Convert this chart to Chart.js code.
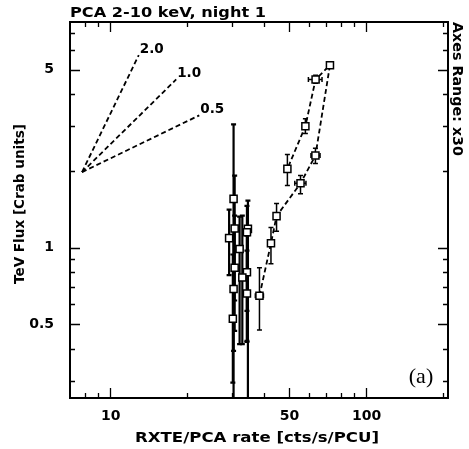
<!DOCTYPE html>
<html>
<head>
<meta charset="utf-8">
<script src="https://cdn.jsdelivr.net/npm/chart.js@4/dist/chart.umd.min.js"></script>
<style>
  html, body { margin: 0; padding: 0; background: #fff; }
</style>
</head>
<body>
<canvas id="pcaChart" width="469" height="449"></canvas>
<script>
// flare track (connected by the dashed line, in time order)
const trackRate   = [38.5, 42.7, 44.9, 55.7, 63.7, 72.6, 63.8, 58.2, 49.5];
const trackFlux   = [0.647, 1.04, 1.33, 1.79, 2.30, 5.21, 4.58, 3.00, 2.04];
const trackFluxLo = [0.475, 0.865, 1.16, 1.63, 2.14, 5.12, 4.42, 2.81, 1.755];
const trackFluxHi = [0.834, 1.20, 1.49, 1.92, 2.46, 5.30, 4.76, 3.21, 2.325];
const trackRateLo = [37.1, 42.3, 44.5, 52.9, 61.2, 71.0, 59.8, 57.7, 49.1];
const trackRateHi = [39.9, 43.1, 45.3, 58.5, 66.4, 74.2, 67.6, 58.7, 49.9];

// quiet points around 30 cts/s
const quietRate   = [30.5, 30.8, 29.3, 34.7, 34.4, 32.2, 30.8, 34.4, 33.0, 30.5, 34.4, 30.3];
const quietFlux   = [1.555, 1.19, 1.09, 1.185, 1.15, 0.988, 0.834, 0.80, 0.764, 0.688, 0.661, 0.526];
const quietFluxLo = [0.22, 0.62, 0.78, 0.22, 0.43, 0.418, 0.471, 0.565, 0.418, 0.393, 0.426, 0.295];
const quietFluxHi = [3.05, 1.92, 1.41, 1.53, 1.46, 1.325, 1.337, 1.115, 1.337, 1.167, 0.973, 0.94];

// reference slopes
const slopeNames    = ['2.0', '1.0', '0.5'];
const slopeFromRate = 7.8;
const slopeFromFlux = 1.98;
const slopeToRate   = [13.0, 18.2, 22.4];
const slopeToFlux   = [5.71, 4.58, 3.31];

// axes
const rateMin = 7, rateMax = 210;
const fluxMin = 0.2567, fluxMax = 7.7;
const rateMajor = [10, 50, 100];
const rateMinor = [8, 9, 20, 30, 40, 60, 70, 80, 90, 200];
const fluxMajor = [0.5, 1, 5];
const fluxMinor = [0.3, 0.4, 0.6, 0.7, 0.8, 0.9, 2, 3, 4, 6, 7];

const bold = 'bold 14px "DejaVu Sans"';

function putText(ctx, text, x, y, width, font, align, baseline, angle) {
    ctx.save();
    ctx.font = font;
    ctx.fillStyle = '#000';
    ctx.translate(x, y);
    if (angle) ctx.rotate(angle);
    var w = ctx.measureText(text).width;
    if (width) ctx.scale(width / w, 1);
    ctx.textAlign = align;
    ctx.textBaseline = baseline;
    ctx.fillText(text, 0, 0);
    ctx.restore();
}

const errorBarPlugin = {
    id: 'errorBars',
    beforeDatasetsDraw(chart) {
        const ctx = chart.ctx, a = chart.chartArea;
        const xs = chart.scales.x, ys = chart.scales.y;
        ctx.save();
        ctx.beginPath();
        ctx.rect(a.left, a.top, a.right - a.left, a.bottom - a.top);
        ctx.clip();
        ctx.strokeStyle = '#000';
        function bar(r, f, fLo, fHi, rLo, rHi, lw) {
            var px = xs.getPixelForValue(r), py = ys.getPixelForValue(f);
            var yLo = ys.getPixelForValue(fLo), yHi = ys.getPixelForValue(fHi);
            ctx.lineWidth = lw;
            ctx.beginPath();
            ctx.moveTo(px, yLo); ctx.lineTo(px, yHi);
            ctx.moveTo(px - 2.5, yLo); ctx.lineTo(px + 2.5, yLo);
            ctx.moveTo(px - 2.5, yHi); ctx.lineTo(px + 2.5, yHi);
            if (rLo !== undefined) {
                var xLo = xs.getPixelForValue(rLo), xHi = xs.getPixelForValue(rHi);
                ctx.moveTo(xLo, py); ctx.lineTo(xHi, py);
                ctx.moveTo(xLo, py - 2.5); ctx.lineTo(xLo, py + 2.5);
                ctx.moveTo(xHi, py - 2.5); ctx.lineTo(xHi, py + 2.5);
            }
            ctx.stroke();
        }
        quietRate.forEach(function (r, i) {
            bar(r, quietFlux[i], quietFluxLo[i], quietFluxHi[i], undefined, undefined, 2.2);
        });
        trackRate.forEach(function (r, i) {
            bar(r, trackFlux[i], trackFluxLo[i], trackFluxHi[i], trackRateLo[i], trackRateHi[i], 1.5);
        });
        ctx.restore();
    }
};

const framePlugin = {
    id: 'frame',
    afterDraw(chart) {
        const ctx = chart.ctx, a = chart.chartArea;
        const xs = chart.scales.x, ys = chart.scales.y;
        ctx.save();
        ctx.strokeStyle = '#000';
        ctx.lineWidth = 1.3;
        ctx.beginPath();
        function xTick(v, len) {
            var px = Math.round(xs.getPixelForValue(v)) + 0.5;
            ctx.moveTo(px, a.bottom); ctx.lineTo(px, a.bottom - len);
            ctx.moveTo(px, a.top); ctx.lineTo(px, a.top + len);
        }
        function yTick(v, len) {
            var py = Math.round(ys.getPixelForValue(v)) + 0.5;
            ctx.moveTo(a.left, py); ctx.lineTo(a.left + len, py);
            ctx.moveTo(a.right, py); ctx.lineTo(a.right - len, py);
        }
        rateMajor.forEach(function (v) { xTick(v, 10); });
        rateMinor.forEach(function (v) { xTick(v, 5); });
        fluxMajor.forEach(function (v) { yTick(v, 10); });
        fluxMinor.forEach(function (v) { yTick(v, 5); });
        ctx.stroke();
        ctx.lineWidth = 2;
        ctx.strokeRect(a.left, a.top, a.right - a.left, a.bottom - a.top);
        ctx.restore();

        // tick labels
        rateMajor.forEach(function (v) {
            putText(ctx, String(v), xs.getPixelForValue(v) + 1, 420, 0, bold, 'center', 'alphabetic');
        });
        fluxMajor.forEach(function (v) {
            putText(ctx, String(v), 54, ys.getPixelForValue(v), 0, bold, 'right', 'middle');
        });

        // slope labels
        slopeNames.forEach(function (s, i) {
            putText(ctx, s, xs.getPixelForValue(slopeToRate[i]) + 1, ys.getPixelForValue(slopeToFlux[i]) + 1,
                24, bold, 'left', 'bottom');
        });

        // titles
        putText(ctx, 'PCA 2-10 keV, night 1', 70, 17, 196, bold, 'left', 'alphabetic');
        putText(ctx, 'RXTE/PCA rate [cts/s/PCU]', 257, 442, 244, bold, 'center', 'alphabetic');
        putText(ctx, 'TeV Flux [Crab units]', 20, 204, 160, bold, 'center', 'middle', -Math.PI / 2);
        putText(ctx, 'Axes Range: x30', 457, 22, 134, bold, 'left', 'middle', Math.PI / 2);
        putText(ctx, '(a)', 421, 377, 0, '22px "Liberation Serif"', 'center', 'middle');
    }
};

const points = function (xs, ys) {
    return xs.map(function (x, i) { return { x: x, y: ys[i] }; });
};

const slopeSets = slopeNames.map(function (s, i) {
    return {
        label: 'slope ' + s,
        data: [{ x: slopeFromRate, y: slopeFromFlux }, { x: slopeToRate[i], y: slopeToFlux[i] }],
        showLine: true,
        borderColor: '#000',
        borderWidth: 1.8,
        borderDash: [5, 3],
        pointRadius: 0
    };
});

var pcaCtx = document.getElementById('pcaChart').getContext('2d');
var pcaChart = new Chart(pcaCtx, {
    type: 'scatter',
    data: {
        datasets: [{
            label: 'flare',
            data: points(trackRate, trackFlux),
            showLine: true,
            borderColor: '#000',
            borderWidth: 1.8,
            borderDash: [5, 3],
            pointStyle: 'rect',
            pointRadius: 5,
            pointBackgroundColor: '#fff',
            pointBorderColor: '#000',
            pointBorderWidth: 1.5
        }, {
            label: 'quiet',
            data: points(quietRate, quietFlux),
            showLine: false,
            pointStyle: 'rect',
            pointRadius: 5,
            pointBackgroundColor: '#fff',
            pointBorderColor: '#000',
            pointBorderWidth: 1.5
        }].concat(slopeSets)
    },
    options: {
        responsive: false,
        animation: false,
        layout: { padding: { left: 70, right: 21, top: 22, bottom: 51 } },
        plugins: { legend: { display: false }, tooltip: { enabled: false } },
        scales: {
            x: { type: 'logarithmic', min: rateMin, max: rateMax, display: false },
            y: { type: 'logarithmic', min: fluxMin, max: fluxMax, display: false }
        }
    },
    plugins: [errorBarPlugin, framePlugin]
});
</script>
</body>
</html>
